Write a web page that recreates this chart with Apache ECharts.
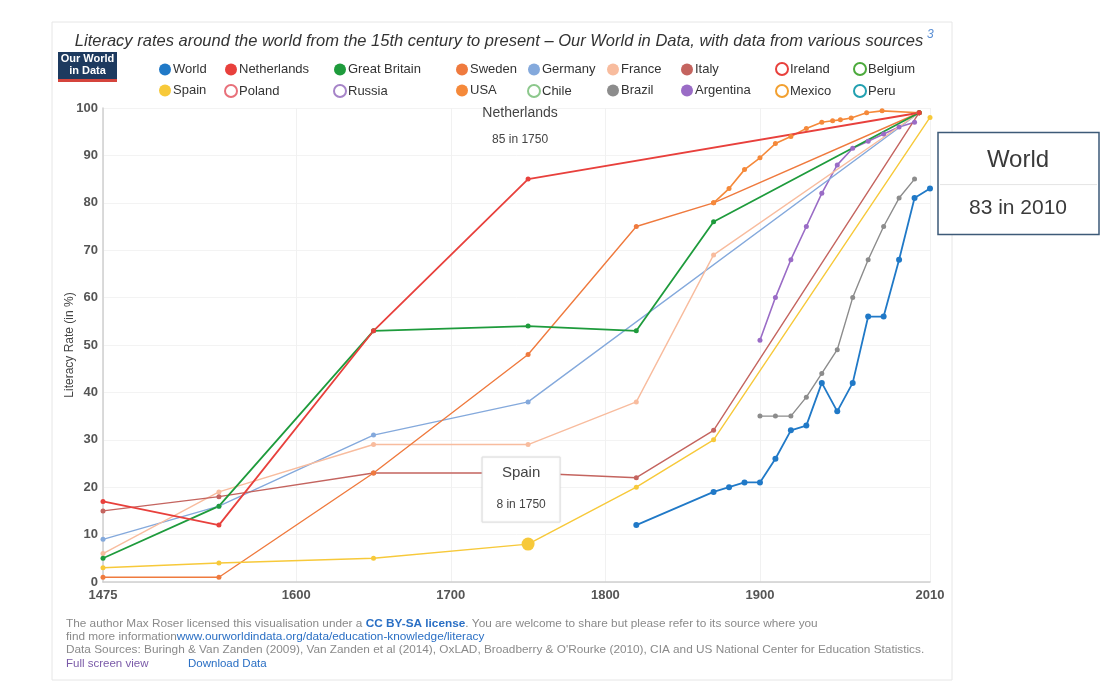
<!DOCTYPE html>
<html>
<head>
<meta charset="utf-8">
<script src="https://cdn.jsdelivr.net/npm/echarts@6/dist/echarts.min.js"></script>
<style>
html,body{margin:0;padding:0;background:#fff;}
#c{width:1115px;height:687px;}
</style>
</head>
<body>
<div id="c"></div>
<script>
// ---- Data (year, literacy %) ----
const xTicks = [1475, 1600, 1700, 1800, 1900, 2010];
const worldData = [[1820,12],[1870,19],[1880,20],[1890,21],[1900,21],[1910,26],[1920,32],[1930,33],[1940,42],[1950,36],[1960,42],[1970,56],[1980,56],[1990,68],[2000,81],[2010,83]];
const netherlandsData = [[1475,17],[1550,12],[1650,53],[1750,85],[2003,99]];
const greatBritainData = [[1475,5],[1550,16],[1650,53],[1750,54],[1820,53],[1870,76],[2003,99]];
const swedenData = [[1475,1],[1550,1],[1650,23],[1750,48],[1820,75],[1870,80],[2003,99]];
const germanyData = [[1475,9],[1550,16],[1650,31],[1750,38],[2003,99]];
const franceData = [[1475,6],[1550,19],[1650,29],[1750,29],[1820,38],[1870,69],[2003,99]];
const italyData = [[1475,15],[1550,18],[1650,23],[1750,23],[1820,22],[1870,32],[2003,99]];
const spainData = [[1475,3],[1550,4],[1650,5],[1750,8],[1820,20],[1870,30],[2010,98]];
const usaData = [[1870,80],[1880,83],[1890,87],[1900,89.5],[1910,92.5],[1920,94],[1930,95.7],[1940,97],[1947,97.3],[1952,97.5],[1959,97.9],[1969,99],[1979,99.4],[2003,99]];
const brazilData = [[1900,35],[1910,35],[1920,35],[1930,39],[1940,44],[1950,49],[1960,60],[1970,68],[1980,75],[1990,81],[2000,85]];
const argentinaData = [[1900,51],[1910,60],[1920,68],[1930,75],[1940,82],[1950,88],[1960,91.5],[1970,93],[1980,94.5],[1990,96],[2000,97]];

// legend columns: [top row, bottom row]
const legendColumns = [
  ['World','Spain'],['Netherlands','Poland'],['Great Britain','Russia'],
  ['Sweden','USA'],['Germany','Chile'],['France','Brazil'],
  ['Italy','Argentina'],['Ireland','Mexico'],['Belgium','Peru']
];
const hiddenCountries = ['Ireland','Belgium','Poland','Russia','Chile','Mexico','Peru'];

// annotations: [series, year]
const annotations = [['Netherlands',1750],['Spain',1750],['World',2010]];

// ---- Styles ----
const colors = {
  'World':'#2079c7','Netherlands':'#e8403c','Great Britain':'#1e9b3c','Sweden':'#ef7a3e',
  'Germany':'#84a9dc','France':'#f8bc9e','Italy':'#c4645f','Spain':'#f7c93a',
  'USA':'#f5893a','Brazil':'#8c8c8c','Argentina':'#9a6cc6',
  'Ireland':'#e8403c','Belgium':'#4caa3c','Poland':'#e8707a','Russia':'#a684c8',
  'Chile':'#8cc88c','Mexico':'#f2a030','Peru':'#22a0b0'
};
const seriesData = {
  'Argentina':argentinaData,'Brazil':brazilData,'Germany':germanyData,'France':franceData,
  'Italy':italyData,'Sweden':swedenData,'USA':usaData,'Great Britain':greatBritainData,
  'Netherlands':netherlandsData,'Spain':spainData,'World':worldData
};
const lineW = {'Netherlands':1.8,'Great Britain':1.8,'World':1.8,'Argentina':1.6,'USA':1.6};

const chart = echarts.init(document.getElementById('c'), null, {renderer:'canvas'});

const series = [];
Object.keys(seriesData).forEach(name => {
  series.push({
    name, type:'line', data: seriesData[name].map(d => {
      if (name === 'Spain' && d[0] === 1750) return {value:d, symbolSize:13};
      return d;
    }),
    symbol:'circle', symbolSize: name === 'World' ? 6 : 5,
    lineStyle:{width: lineW[name] || 1.4, color: colors[name]},
    itemStyle:{color: colors[name]},
    z: name === 'Spain' ? 4 : 2,
    emphasis:{disabled:true}, silent:true
  });
});
hiddenCountries.forEach(name => {
  series.push({name, type:'line', data:[], symbol:'emptyCircle', itemStyle:{color:colors[name]}});
});

const colX = [160, 225, 334, 457, 528, 608, 682, 776, 854];
const legends = legendColumns.map((col, i) => {
  const allHollow = col.every(n => hiddenCountries.includes(n));
  return {
    orient:'vertical', left: colX[i] - 6, top: allHollow ? 57 : 58,
    itemWidth:12, itemHeight:12, itemGap:8,
    selectedMode:false,
    textStyle:{fontSize:13, color:'#333', fontFamily:'Liberation Sans, Arial', padding:[0,0,0,-3]},
    data: col.map(n => ({name:n, icon: hiddenCountries.includes(n) ? 'emptyCircle' : 'circle'}))
  };
});

chart.setOption({
  animation:false,
  backgroundColor:'#fff',
  legend: legends,
  grid:{left:103, right:185, top:108, bottom:105, containLabel:false},
  xAxis:{
    type:'value', min:1475, max:2010,
    axisLine:{show:true, lineStyle:{color:'#cfcfcf', width:1.5}},
    axisTick:{show:false, customValues: xTicks},
    axisLabel:{customValues: xTicks, formatter: v => String(v), fontSize:13, color:'#555', fontWeight:'bold', margin:7, fontFamily:'Liberation Sans, Arial'},
    splitLine:{show:true, lineStyle:{color:'#f1f1f1'}}
  },
  yAxis:{
    type:'value', min:0, max:100, interval:10,
    name:'Literacy Rate (in %)', nameLocation:'middle', nameGap:27, nameMoveOverlap:false,
    nameTextStyle:{fontSize:12, color:'#444', fontFamily:'Liberation Sans, Arial'},
    axisLine:{show:true, lineStyle:{color:'#cfcfcf', width:1.5}},
    axisTick:{show:false},
    axisLabel:{fontSize:13, color:'#555', fontWeight:'bold', margin:5, fontFamily:'Liberation Sans, Arial'},
    splitLine:{show:true, lineStyle:{color:'#f3f3f3'}}
  },
  series
});

// ---- Graphics: frame, title, logo, footer, annotations ----
const ff = 'Liberation Sans, Arial, sans-serif';
const graphics = [
  {type:'rect', shape:{x:52, y:22, width:900, height:658}, style:{fill:'none', stroke:'#e6e6e6', lineWidth:1}, z:-1},
  {type:'text', x:499, y:41, style:{text:'Literacy rates around the world from the 15th century to present – Our World in Data, with data from various sources',
    font:'italic 16.5px ' + ff, fill:'#333', align:'center', verticalAlign:'middle'}},
  {type:'text', x:927, y:35, style:{text:'3', font:'italic 12px ' + ff, fill:'#5b8fd4', align:'left', verticalAlign:'middle'}},
  {type:'rect', shape:{x:58, y:52, width:59, height:27}, style:{fill:'#1d3a5f'}},
  {type:'rect', shape:{x:58, y:79, width:59, height:3}, style:{fill:'#d5443c'}},
  {type:'text', x:87.5, y:59, style:{text:'Our World', font:'bold 11px ' + ff, fill:'#fff', align:'center', verticalAlign:'middle'}},
  {type:'text', x:87.5, y:71, style:{text:'in Data', font:'bold 11px ' + ff, fill:'#fff', align:'center', verticalAlign:'middle'}},
  {type:'text', x:66, y:624, style:{text:'{g|The author Max Roser licensed this visualisation under a }{b|CC BY-SA license}{g|. You are welcome to share but please refer to its source where you}',
    rich:{g:{fill:'#8a8a8a', font:'11.8px ' + ff}, b:{fill:'#2a6fc4', font:'bold 11.8px ' + ff}}, verticalAlign:'middle'}},
  {type:'text', x:66, y:637, style:{text:'{g|find more information}{b|www.ourworldindata.org/data/education-knowledge/literacy}',
    rich:{g:{fill:'#8a8a8a', font:'11.8px ' + ff}, b:{fill:'#2a6fc4', font:'11.8px ' + ff}}, verticalAlign:'middle'}},
  {type:'text', x:66, y:650, style:{text:'Data Sources: Buringh & Van Zanden (2009), Van Zanden et al (2014), OxLAD, Broadberry & O\'Rourke (2010), CIA and US National Center for Education Statistics.',
    font:'11.8px ' + ff, fill:'#8a8a8a', verticalAlign:'middle'}},
  {type:'text', x:66, y:664, style:{text:'Full screen view', font:'11.5px ' + ff, fill:'#7a5aa8', verticalAlign:'middle'}},
  {type:'text', x:188, y:664, style:{text:'Download Data', font:'11.5px ' + ff, fill:'#2a6fc4', verticalAlign:'middle'}}
];

annotations.forEach(([name, year]) => {
  const pt = seriesData[name].find(d => d[0] === year);
  const [px, py] = chart.convertToPixel({gridIndex:0}, pt);
  const sub = pt[1] + ' in ' + year;
  if (name === 'Netherlands') {
    graphics.push({type:'text', x:px - 8, y:py - 66, style:{text:name, font:'14px ' + ff, fill:'#444', align:'center', verticalAlign:'middle'}});
    graphics.push({type:'text', x:px - 8, y:py - 39, style:{text:sub, font:'12px ' + ff, fill:'#444', align:'center', verticalAlign:'middle'}});
  } else if (name === 'Spain') {
    graphics.push({type:'rect', shape:{x:px - 46, y:py - 87, width:78, height:65}, style:{fill:'#fff', stroke:'#dedede', lineWidth:1, shadowBlur:2, shadowColor:'rgba(0,0,0,0.08)'}, z:10});
    graphics.push({type:'text', x:px - 7, y:py - 71, style:{text:name, font:'15px ' + ff, fill:'#444', align:'center', verticalAlign:'middle'}, z:11});
    graphics.push({type:'text', x:px - 7, y:py - 39, style:{text:sub, font:'12px ' + ff, fill:'#444', align:'center', verticalAlign:'middle'}, z:11});
  } else {
    const bx = px + 8, by = py - 56;
    graphics.push({type:'rect', shape:{x:bx, y:by, width:161, height:102}, style:{fill:'#fff', stroke:'#3d5a78', lineWidth:1.5}, z:10});
    graphics.push({type:'line', shape:{x1:bx + 2, y1:by + 52, x2:bx + 159, y2:by + 52}, style:{stroke:'#e4e4e4', lineWidth:1}, z:11});
    graphics.push({type:'text', x:bx + 80, y:by + 28, style:{text:name, font:'24px ' + ff, fill:'#3a3a3a', align:'center', verticalAlign:'middle'}, z:11});
    graphics.push({type:'text', x:bx + 80, y:by + 76, style:{text:sub, font:'21px ' + ff, fill:'#3a3a3a', align:'center', verticalAlign:'middle'}, z:11});
  }
});

chart.setOption({graphic: graphics});
</script>
</body>
</html>
